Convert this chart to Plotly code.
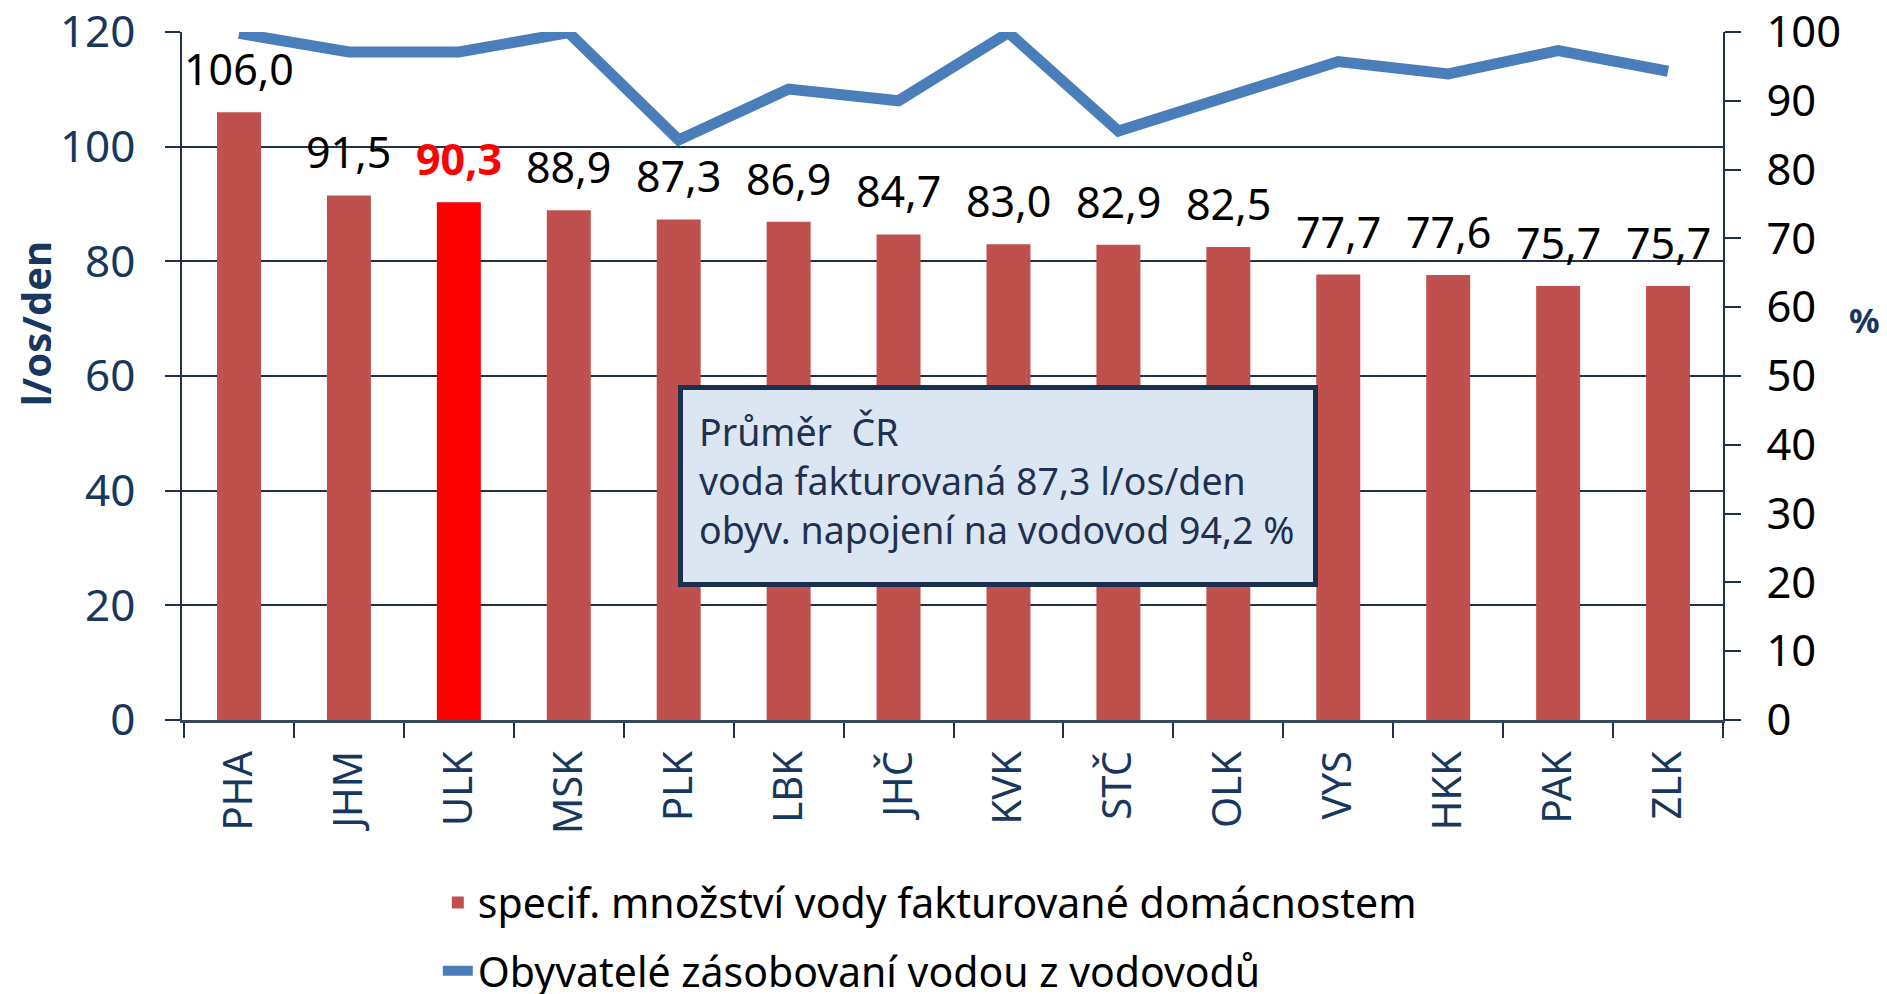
import plotly.graph_objects as go

categories = ["PHA", "JHM", "ULK", "MSK", "PLK", "LBK", "JHČ", "KVK", "STČ", "OLK", "VYS", "HKK", "PAK", "ZLK"]
water_lpd = [106.0, 91.5, 90.3, 88.9, 87.3, 86.9, 84.7, 83.0, 82.9, 82.5, 77.7, 77.6, 75.7, 75.7]
supplied_pct = [99.8, 97.1, 97.1, 99.9, 84.3, 91.7, 90.0, 99.9, 85.6, 90.7, 95.7, 93.9, 97.3, 94.3]
highlight = "ULK"

bar_name = "specif. množství vody fakturované domácnostem"
line_name = "Obyvatelé zásobovaní vodou z vodovodů"
box_lines = ["Průměr  ČR", "voda fakturovaná 87,3 l/os/den", "obyv. napojení na vodovod 94,2 %"]

NAVY = "#17375E"
FONT = "Noto Sans"

bar_colors = ["#FF0000" if c == highlight else "#C0504D" for c in categories]

fig = go.Figure()
fig.add_trace(go.Bar(
    x=categories, y=water_lpd, name=bar_name,
    marker=dict(color=bar_colors, line=dict(width=0)),
    width=0.4, legendgroup="a",
))
fig.add_trace(go.Scatter(
    x=categories, y=supplied_pct, name=line_name, yaxis="y2",
    mode="lines", line=dict(color="#4A7EBB", width=11),
    legendgroup="b",
))

annotations = []
for c, v in zip(categories, water_lpd):
    txt = f"{v:.1f}".replace(".", ",")
    if c == highlight:
        txt = f"<b>{txt}</b>"
    annotations.append(dict(
        x=c, y=v, xref="x", yref="y", text=txt, showarrow=False,
        yanchor="bottom", yshift=12,
        font=dict(family=FONT, size=43, color="#FF0000" if c == highlight else "#000000"),
    ))

annotations.append(dict(
    xref="paper", yref="paper", x=0.5297, y=0.340, xanchor="center", yanchor="middle",
    text="<br>".join(box_lines), showarrow=False, align="left", valign="top",
    width=598, height=160, borderpad=16,
    bgcolor="#DCE6F2", bordercolor="#1B2F4F", borderwidth=5,
    font=dict(family=FONT, size=37.5, color="#1F3150"),
))
annotations.append(dict(
    xref="paper", yref="paper", x=-0.095, y=0.576, xanchor="center", yanchor="middle",
    text="<b>l/os/den</b>", textangle=-90, showarrow=False,
    font=dict(family=FONT, size=40, color=NAVY),
))
annotations.append(dict(
    xref="paper", yref="paper", x=1.092, y=0.581, xanchor="center", yanchor="middle",
    text="<b>%</b>", showarrow=False,
    font=dict(family=FONT, size=34, color=NAVY),
))

fig.update_layout(
    width=1879, height=986,
    margin=dict(l=174, r=164, t=24, b=274, autoexpand=False),
    paper_bgcolor="white", plot_bgcolor="white",
    font=dict(family=FONT, color="#000000"),
    showlegend=True,
    legend=dict(
        orientation="v", x=0.166, xanchor="left", y=-0.217, yanchor="top",
        font=dict(family=FONT, size=41, color="#000000"),
        traceorder="grouped", tracegroupgap=12,
        bgcolor="rgba(0,0,0,0)",
    ),
    xaxis=dict(
        type="category", tickson="boundaries", ticks="outside", ticklen=15,
        tickcolor="#1F3049", tickwidth=2,
        showline=True, linecolor="#34475F", linewidth=3,
        tickangle=-90, tickfont=dict(family=FONT, size=40, color=NAVY),
        ticklabelstandoff=12, automargin=False,
        showgrid=False, zeroline=False, fixedrange=True,
    ),
    yaxis=dict(
        range=[0, 120], dtick=20, ticks="outside", ticklen=15,
        tickcolor="#1F3049", tickwidth=1.5,
        showline=True, linecolor="#1F3049", linewidth=1.5,
        showgrid=True, gridcolor="#1F3049", gridwidth=1.5,
        zeroline=False, automargin=False, ticklabelstandoff=21,
        ticklabeloverflow="allow",
        tickfont=dict(family=FONT, size=44, color=NAVY),
    ),
    yaxis2=dict(
        range=[0, 100], dtick=10, overlaying="y", side="right",
        ticks="outside", ticklen=16, tickcolor="#1F3049", tickwidth=1.5,
        showline=True, linecolor="#1F3049", linewidth=1.5,
        showgrid=False, zeroline=False, automargin=False, ticklabelstandoff=17,
        ticklabeloverflow="allow",
        tickfont=dict(family=FONT, size=43.5, color="#000000"),
    ),
    annotations=annotations,
    bargap=0.6,
)

fig.write_html("out.html")
